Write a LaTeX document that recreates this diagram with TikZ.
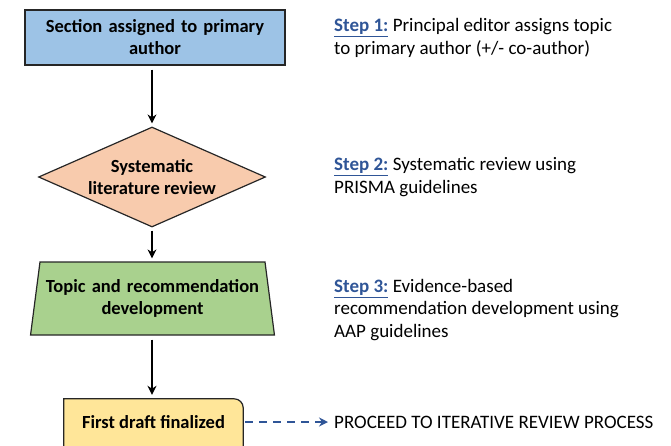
\documentclass[tikz,border=0pt]{standalone}
\usepackage{fontspec}
\setmainfont{Carlito}
\usetikzlibrary{arrows.meta, shapes.geometric, backgrounds}

\definecolor{boxblue}{HTML}{9DC3E6}
\definecolor{boxpeach}{HTML}{F8CBAD}
\definecolor{boxgreen}{HTML}{A9D18E}
\definecolor{boxyellow}{HTML}{FFE699}
\definecolor{stepblue}{HTML}{2F5597}

\tikzset{
  flowtext/.style={font=\fontsize{18.5}{22}\selectfont\bfseries, align=center, inner sep=0pt},
  outline/.style={draw=black!85, line width=1.2pt},
  flowarrow/.style={-{Stealth[length=9pt,width=9pt]}, line width=1.8pt},
  note/.style={font=\fontsize{19}{22.5}\selectfont, align=left, anchor=west, inner sep=0pt},
}
\newcommand{\steplabel}[1]{{\bfseries\color{stepblue}\underline{Step #1:}}}

\begin{document}
\begin{tikzpicture}[x=1pt, y=-1pt]
\clip (0,0) rectangle (671,445);
\useasboundingbox (0,0) rectangle (671,445);

% flow boxes
\node[flowtext, outline, fill=boxblue, minimum width=260pt, minimum height=55pt, text width=250pt] (assign) at (155,37.5) {Section assigned to primary\\author};
\node[flowtext, outline, fill=boxpeach, diamond, aspect=2.27, minimum width=227pt, minimum height=100pt, inner sep=0pt] (review) at (152,177) {Systematic\\literature review};
\node[flowtext, outline, fill=boxgreen, trapezium, trapezium left angle=76, trapezium right angle=76, minimum height=73pt, text width=225pt, trapezium stretches body] (develop) at (152.5,298.5) {Topic and recommendation\\development};
\node[flowtext, minimum width=179pt, minimum height=46pt] (draft) at (153.5,422) {First draft finalized};
\begin{scope}[on background layer]
\draw[outline, fill=boxyellow] ([yshift=-20pt]draft.south west) -- (draft.north west) -- ([xshift=-9pt]draft.north east) to[out=0,in=90] ([yshift=-9pt]draft.north east) -- ([yshift=-20pt]draft.south east);
\end{scope}

% connectors
\draw[flowarrow, shorten <=4pt, shorten >=3pt] (assign.south -| review.north) -- (review.north);
\draw[flowarrow, shorten <=3pt, shorten >=3pt] (review.south) -- (review.south |- develop.north);
\draw[flowarrow, shorten <=4pt, shorten >=4pt] (develop.south -| review.south) -- (draft.north -| review.south);

% steps
\node[note] (step1) at (334,38) {\steplabel{1} Principal editor assigns topic\\to primary author (+/- co-author)};
\node[note] (step2) at (334,177) {\steplabel{2} Systematic review using\\PRISMA guidelines};
\node[note] (step3) at (334,310) {\steplabel{3} Evidence-based\\recommendation development using\\AAP guidelines};
\node[note] (proceed) at (334,422) {PROCEED TO ITERATIVE REVIEW PROCESS};
\draw[stepblue, line width=1.8pt, dash pattern=on 8pt off 6pt, -{Stealth[length=9pt,width=9pt]}] ([xshift=2pt]draft.east) -- ([xshift=-6pt]proceed.west);
\end{tikzpicture}
\end{document}
